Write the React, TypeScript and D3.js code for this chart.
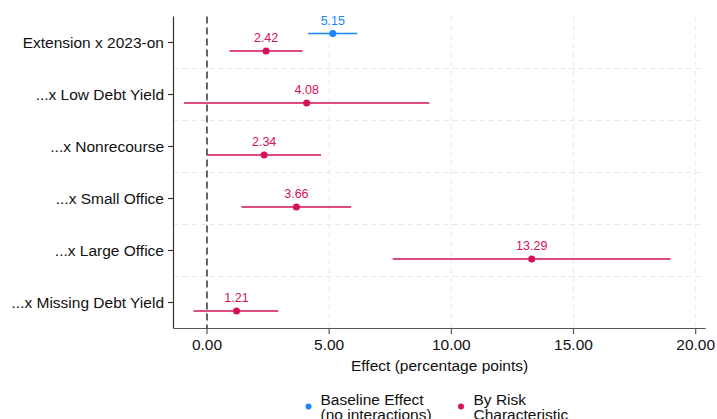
import React from "react";
import * as d3 from "d3";

const categories = [
  "Extension x 2023-on",
  "...x Low Debt Yield",
  "...x Nonrecourse",
  "...x Small Office",
  "...x Large Office",
  "...x Missing Debt Yield",
];

const baselineCategory = "Extension x 2023-on";
const baselineEst = 5.15;
const baselineLo = 4.14;
const baselineHi = 6.15;

const riskEst = [2.42, 4.08, 2.34, 3.66, 13.29, 1.21];
const riskLo = [0.92, -0.94, 0.01, 1.41, 7.6, -0.55];
const riskHi = [3.91, 9.1, 4.67, 5.9, 18.97, 2.92];

const xTicks = [0, 5, 10, 15, 20];

const BLUE = "#1a85ff";
const RED = "#d41159";
const FONT = "'Liberation Sans', Arial, Helvetica, sans-serif";

export default function App() {
  const W = 717;
  const H = 419;
  const left = 173.5;
  const right = 705.7;
  const top = 16.5;
  const bottom = 328.5;

  const x = d3.scaleLinear().domain([-1.37, 20.41]).range([left, right]);
  const y = d3.scaleBand<string>().domain(categories).range([top, bottom]).padding(0);
  const bw = y.bandwidth();
  const yc = (c: string) => (y(c) as number) + bw / 2;

  const riskOff = 8.5;
  const baseOff = -9;

  const risk = categories.map((c, i) => ({ c, est: riskEst[i], lo: riskLo[i], hi: riskHi[i] }));

  return (
    <div style={{ position: "absolute", left: 0, top: 0 }}>
      <svg width={W} height={H} style={{ display: "block", fontFamily: FONT }}>
        <rect x={0} y={0} width={W} height={H} fill="#ffffff" />
        {/* horizontal gridlines between categories */}
        {categories.slice(1).map((c) => (
          <line
            key={"hg" + c}
            x1={left}
            x2={right}
            y1={y(c) as number}
            y2={y(c) as number}
            stroke="#e8e8e8"
            strokeWidth={1}
            strokeDasharray="5,4"
          />
        ))}
        {/* vertical gridlines */}
        {xTicks.filter((t) => t !== 0).map((t) => (
          <line
            key={"vg" + t}
            x1={x(t)}
            x2={x(t)}
            y1={top}
            y2={bottom}
            stroke="#e8e8e8"
            strokeWidth={1}
            strokeDasharray="5,4"
          />
        ))}
        {/* zero reference line */}
        <line x1={x(0)} x2={x(0)} y1={top} y2={bottom} stroke="#000" strokeWidth={1.2} strokeDasharray="7,4" />

        {/* axes */}
        <line x1={left} x2={left} y1={top} y2={bottom} stroke="#333" strokeWidth={1.2} />
        <line x1={left} x2={right} y1={bottom} y2={bottom} stroke="#555" strokeWidth={1.2} />
        {categories.map((c) => (
          <g key={"yt" + c}>
            <line x1={left - 5.5} x2={left} y1={yc(c)} y2={yc(c)} stroke="#333" strokeWidth={1.2} />
            <text x={left - 9.5} y={yc(c)} dy="0.35em" textAnchor="end" fontSize={15.5} fill="#111">
              {c}
            </text>
          </g>
        ))}
        {xTicks.map((t) => (
          <g key={"xt" + t}>
            <line x1={x(t)} x2={x(t)} y1={bottom} y2={bottom + 5.5} stroke="#555" strokeWidth={1.2} />
            <text x={x(t)} y={349.5} textAnchor="middle" fontSize={15.5} fill="#111">
              {t.toFixed(2)}
            </text>
          </g>
        ))}
        <text x={(left + right) / 2} y={371} textAnchor="middle" fontSize={15.5} fill="#111">
          Effect (percentage points)
        </text>

        {/* baseline */}
        <g>
          <line
            x1={x(baselineLo)}
            x2={x(baselineHi)}
            y1={yc(baselineCategory) + baseOff}
            y2={yc(baselineCategory) + baseOff}
            stroke={BLUE}
            strokeWidth={1.4}
          />
          <circle cx={x(baselineEst)} cy={yc(baselineCategory) + baseOff} r={3.5} fill={BLUE} />
          <text
            x={x(baselineEst)}
            y={yc(baselineCategory) + baseOff - 9}
            textAnchor="middle"
            fontSize={12.5}
            fill={BLUE}
          >
            {baselineEst.toFixed(2)}
          </text>
        </g>

        {/* risk characteristic */}
        {risk.map((d) => (
          <g key={"r" + d.c}>
            <line
              x1={x(d.lo)}
              x2={x(d.hi)}
              y1={yc(d.c) + riskOff}
              y2={yc(d.c) + riskOff}
              stroke={RED}
              strokeWidth={1.4}
            />
            <circle cx={x(d.est)} cy={yc(d.c) + riskOff} r={3.5} fill={RED} />
            <text x={x(d.est)} y={yc(d.c) + riskOff - 9} textAnchor="middle" fontSize={12.5} fill={RED}>
              {d.est.toFixed(2)}
            </text>
          </g>
        ))}

        {/* legend */}
        <circle cx={308.5} cy={406.5} r={3} fill={BLUE} />
        <text x={320.5} y={404.5} fontSize={15.5} fill="#111">Baseline Effect</text>
        <text x={320.5} y={420} fontSize={15.5} fill="#111">(no interactions)</text>
        <circle cx={461} cy={406.5} r={3} fill={RED} />
        <text x={473.5} y={404.5} fontSize={15.5} fill="#111">By Risk</text>
        <text x={473.5} y={420} fontSize={15.5} fill="#111">Characteristic</text>
      </svg>
    </div>
  );
}
